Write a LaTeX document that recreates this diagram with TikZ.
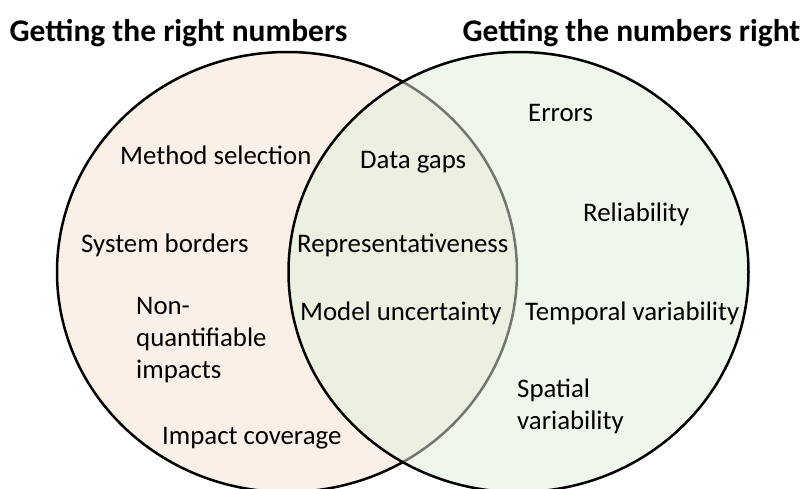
\documentclass[tikz,border=0pt]{standalone}
\usepackage{fontspec}
\setmainfont{Carlito}
\definecolor{peach}{RGB}{251,240,232}
\definecolor{mint}{RGB}{225,239,219}
\newcommand{\stackl}[1]{\vtop{\baselineskip=32pt \lineskiplimit=0pt #1}}
\tikzset{
  x=1pt, y=-1pt,
  setbox/.style={line width=2.5pt, draw=black},
  lbl/.style={anchor=base west, inner sep=0pt, font=\fontsize{26.8}{32}\selectfont},
  ttl/.style={anchor=base, inner sep=0pt, font=\fontsize{31.5}{36}\selectfont\bfseries}
}
\begin{document}
\begin{tikzpicture}
\useasboundingbox (0,0) rectangle (806,489);
\fill[white] (0,0) rectangle (806,489);
\draw[setbox, fill=peach] (287,272) ellipse [x radius=230, y radius=220];
\draw[setbox, fill=mint, fill opacity=0.5] (518.5,272) ellipse [x radius=230, y radius=220];
\node[ttl] (t1) at (178.5,42) {Getting the right numbers};
\node[ttl] (t2) at (631.5,42) {Getting the numbers right};
\node[lbl] (ms) at (120,165) {Method selection};
\node[lbl] (sb) at (81,252) {System borders};
\node[lbl] (nq) at (136,314) {\stackl{\hbox{Non-}\hbox{quantifiable}\hbox{impacts}}};
\node[lbl] (ic) at (162,444) {Impact coverage};
\node[lbl] (dg) at (360,169) {Data gaps};
\node[lbl] (rp) at (297,252) {Representativeness};
\node[lbl] (mu) at (300,320) {Model uncertainty};
\node[lbl] (er) at (528,122) {Errors};
\node[lbl] (rl) at (583,222) {Reliability};
\node[lbl] (tv) at (525,320) {Temporal variability};
\node[lbl] (sv) at (517,397) {\stackl{\hbox{Spatial}\hbox{variability}}};
\end{tikzpicture}
\end{document}
